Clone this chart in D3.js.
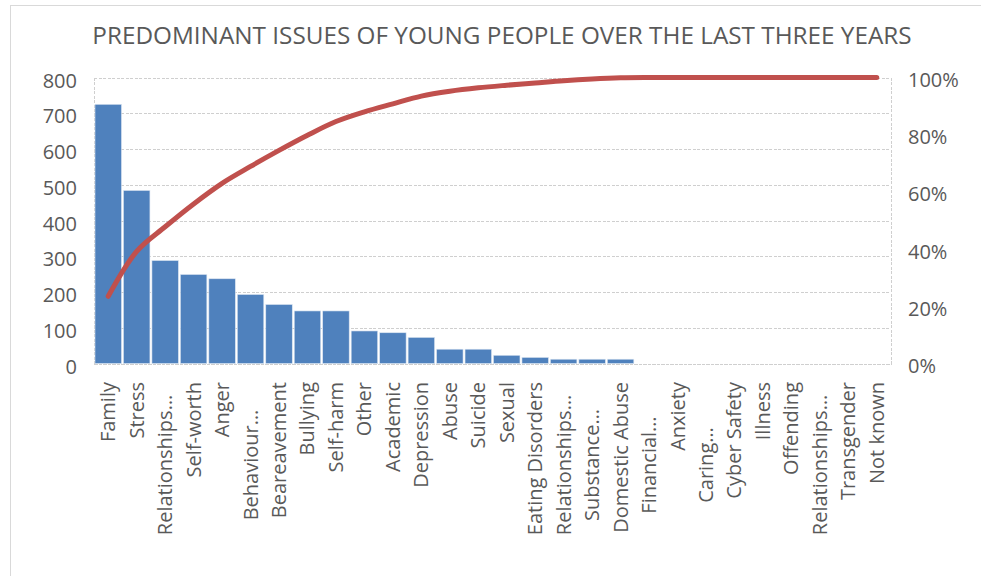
<!DOCTYPE html>
<html>
<head>
<meta charset="utf-8">
<script src="https://cdn.jsdelivr.net/npm/d3@7"></script>
<style>
  html, body { margin: 0; padding: 0; background: #fff; }
  svg { display: block; }
  text { font-family: "Open Sans", "DejaVu Sans", sans-serif; fill: #595959; }
</style>
</head>
<body>
<svg id="chart" width="981" height="576"></svg>
<script>
// ---- data ----
const title = "PREDOMINANT ISSUES OF YOUNG PEOPLE OVER THE LAST THREE YEARS";
const categories = ["Family","Stress","Relationships…","Self-worth","Anger","Behaviour…","Beareavement",
  "Bullying","Self-harm","Other","Academic","Depression","Abuse","Suicide","Sexual","Eating Disorders",
  "Relationships…","Substance…","Domestic Abuse","Financial…","Anxiety","Caring…","Cyber Safety",
  "Illness","Offending","Relationships…","Transgender","Not known"];
const counts = [725, 484, 288, 249, 237, 193, 165, 147, 147, 91, 86, 73, 40, 40, 23, 17, 12, 12, 12, 0,
  0, 0, 0, 0, 0, 0, 0, 0];
const cumulativePct = [23.5, 39.2, 47.8, 55.8, 63.0, 68.9, 74.5, 79.8, 84.6, 88.0, 90.8, 93.5, 95.2,
  96.4, 97.3, 98.1, 98.9, 99.5, 99.9, 100, 100, 100, 100, 100, 100, 100, 100, 100];
const leftTicks = [0, 100, 200, 300, 400, 500, 600, 700, 800];
const rightTicks = [0, 20, 40, 60, 80, 100];

// ---- layout ----
const W = 981, H = 576;
const plot = { left: 94, right: 891, top: 77.5, bottom: 363.5 };
const colors = { bar: "#4f81bd", line: "#c0504d", grid: "#cfcfcf", border: "#d9d9d9", text: "#595959" };

const svg = d3.select("#chart");

// outer chart border
svg.append("rect")
  .attr("x", 10.5).attr("y", 5.5)
  .attr("width", W + 20).attr("height", H + 20)
  .attr("fill", "#fff").attr("stroke", colors.border).attr("stroke-width", 1);

// title
svg.append("text")
  .attr("x", 502).attr("y", 43.5)
  .attr("text-anchor", "middle")
  .style("font-size", "24.3px")
  .text(title);

const idx = d3.range(categories.length);
const x = d3.scaleBand().domain(idx).range([plot.left, plot.right])
  .paddingInner(0.07).paddingOuter(0.035);
const y = d3.scaleLinear().domain([0, 800]).range([plot.bottom, plot.top]);
const y2 = d3.scaleLinear().domain([0, 100]).range([plot.bottom, plot.top]);

// gridlines (left axis)
const grid = svg.append("g")
  .attr("transform", `translate(${plot.left},0)`)
  .call(d3.axisLeft(y).tickValues(leftTicks).tickSize(-(plot.right - plot.left)).tickFormat(""));
grid.select(".domain").remove();
grid.selectAll("line")
  .attr("stroke", colors.grid).attr("stroke-dasharray", "3,1.5")
  .attr("shape-rendering", "crispEdges");

// plot-area left/right edges
svg.append("g").selectAll("line").data([plot.left, plot.right]).join("line")
  .attr("x1", d => d).attr("x2", d => d)
  .attr("y1", plot.top).attr("y2", plot.bottom)
  .attr("stroke", colors.grid).attr("stroke-dasharray", "3,1.5")
  .attr("shape-rendering", "crispEdges");

// bars
svg.append("g").selectAll("rect").data(idx.filter(i => counts[i] > 0)).join("rect")
  .attr("x", i => x(i))
  .attr("y", i => y(counts[i]))
  .attr("width", x.bandwidth())
  .attr("height", i => y(0) - y(counts[i]))
  .attr("fill", colors.bar)
  .attr("stroke", "#dbe5f1").attr("stroke-width", 0.6);

// cumulative line
const line = d3.line()
  .x(i => x(i) + x.bandwidth() / 2)
  .y(i => y2(cumulativePct[i]))
  .curve(d3.curveCatmullRom.alpha(0.5));
svg.append("path")
  .datum(idx)
  .attr("d", line)
  .attr("fill", "none")
  .attr("stroke", colors.line)
  .attr("stroke-width", 5)
  .attr("stroke-linecap", "round")
  .attr("stroke-linejoin", "round");

// left axis labels
const la = svg.append("g")
  .attr("transform", "translate(81,0)")
  .call(d3.axisLeft(y).tickValues(leftTicks).tickSize(0).tickPadding(4));
la.select(".domain").remove();
la.selectAll("text").style("font-size", "20px").attr("dy", "0.48em").style("fill", colors.text);

// right axis labels
const ra = svg.append("g")
  .attr("transform", "translate(904,0)")
  .call(d3.axisRight(y2).tickValues(rightTicks).tickSize(0).tickPadding(4).tickFormat(d => d + "%"));
ra.select(".domain").remove();
ra.selectAll("text").style("font-size", "20px").attr("dy", "0.45em").style("fill", colors.text);

// bottom axis with rotated labels
const ba = svg.append("g")
  .attr("transform", `translate(0,${plot.bottom})`)
  .call(d3.axisBottom(x).tickSize(0).tickFormat(i => categories[i]));
ba.select(".domain")
  .attr("stroke", colors.grid).attr("stroke-dasharray", "3,1.5")
  .attr("shape-rendering", "crispEdges");
ba.selectAll("text")
  .style("font-size", "20px")
  .style("fill", colors.text)
  .attr("transform", "rotate(-90)")
  .attr("y", 0)
  .attr("dy", "0.35em")
  .each(function(i) {
    const t = d3.select(this);
    if (categories[i].endsWith("…")) {
      t.attr("text-anchor", "middle").attr("x", -(465 - plot.bottom));
    } else {
      t.attr("text-anchor", "end").attr("x", -(382 - plot.bottom));
    }
  });
</script>
</body>
</html>
